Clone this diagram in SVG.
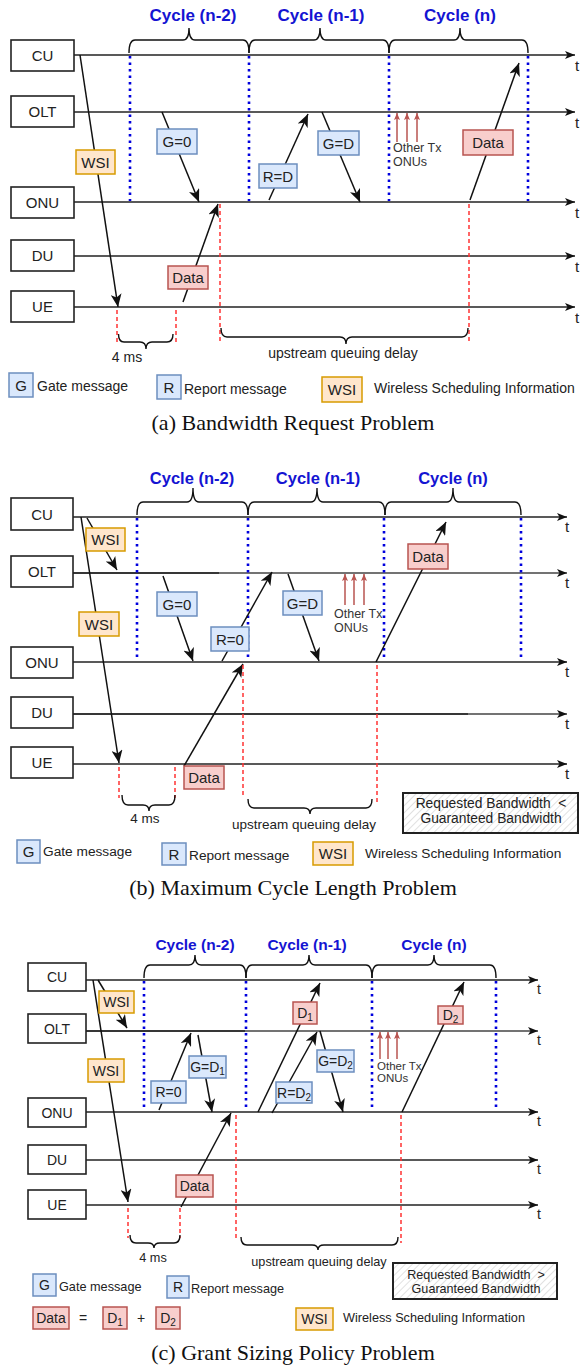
<svg xmlns="http://www.w3.org/2000/svg" width="581" height="1365" viewBox="0 0 581 1365">
<style>
.lane{fill:#fff;stroke:#222;stroke-width:1.6}
.ln{stroke:#222;stroke-width:1.6;fill:none;marker-end:url(#ahs)}
.lnl{stroke:#444;stroke-width:1.3;fill:none;marker-end:url(#ahs)}
.msg{stroke:#111;stroke-width:1.5;fill:none;marker-end:url(#ah)}
.cyc{stroke:#0000dd;stroke-width:2.6;stroke-dasharray:2.6 3.9;fill:none}
.red{stroke:#ff3333;stroke-width:1.5;stroke-dasharray:4 3;fill:none}
.brace{fill:none;stroke:#111;stroke-width:1.4}
.gb{fill:#dae8fc;stroke:#6c8ebf;stroke-width:1.5}
.rb{fill:#f8cecc;stroke:#b85450;stroke-width:1.5}
.ob{fill:#ffe6cc;stroke:#d79b00;stroke-width:1.5}
.otx{stroke:#b85450;stroke-width:1.5;fill:none;marker-end:url(#ahr)}
.tx{font-family:"Liberation Sans",Arial,sans-serif;fill:#222}
.c{text-anchor:middle}
.cy{font-family:"Liberation Sans",Arial,sans-serif;font-weight:bold;fill:#1414d2;text-anchor:middle}
.cap{font-family:"Liberation Serif","Times New Roman",serif;fill:#111;text-anchor:middle;font-size:22px}
.hb{fill:url(#hatch);stroke:#222;stroke-width:2}
</style>
<defs>
<marker id="ah" markerUnits="userSpaceOnUse" viewBox="0 0 13 11" markerWidth="13" markerHeight="11" refX="13" refY="5.5" orient="auto"><path d="M0,0 L13,5.5 L0,11 L3.5,5.5 z" fill="#111"/></marker>
<marker id="ahs" markerUnits="userSpaceOnUse" viewBox="0 0 10 8" markerWidth="10" markerHeight="8" refX="10" refY="4" orient="auto"><path d="M0,0 L10,4 L0,8 L2.5,4 z" fill="#111"/></marker>
<marker id="ahr" markerUnits="userSpaceOnUse" viewBox="0 0 7 6" markerWidth="7" markerHeight="6" refX="7" refY="3" orient="auto"><path d="M0,0 L7,3 L0,6 L1.5,3 z" fill="#b85450"/></marker>
<pattern id="hatch" patternUnits="userSpaceOnUse" width="5" height="5" patternTransform="rotate(45)"><rect width="5" height="5" fill="#fff"/><line x1="0" y1="0" x2="0" y2="5" stroke="#d4d4d4" stroke-width="1.4"/></pattern>
</defs>

<!-- ================= PANEL A ================= -->
<g id="connectors-a">
<path class="ln" d="M74,55 H575"/>
<path class="ln" d="M74,112 H575"/>
<path class="ln" d="M74,202 H575"/>
<path class="ln" d="M74,256 H575"/>
<path class="ln" d="M74,307 H575"/>
<path class="cyc" d="M130,56 V201 M249,56 V201 M389,56 V201 M528,56 V201"/>
<path class="brace" d="M129,53 Q129,40 135,40 L183,40 Q189,40 189,28 Q189,40 195,40 L243,40 Q249,40 249,53"/>
<path class="brace" d="M249,53 Q249,40 255,40 L314,40 Q320,40 320,28 Q320,40 326,40 L383,40 Q389,40 389,53"/>
<path class="brace" d="M389,53 Q389,40 395,40 L454,40 Q460,40 460,28 Q460,40 466,40 L522,40 Q528,40 528,53"/>
<path class="msg" d="M80,55 L118,307"/>
<path class="msg" d="M162,112 L199,202"/>
<path class="msg" d="M269,200 L308,114"/>
<path class="msg" d="M322,112 L360,202"/>
<path class="msg" d="M470,200 L519,63"/>
<path class="msg" d="M183,302 L218,204"/>
<path class="otx" d="M397,142 V113"/>
<path class="otx" d="M407,142 V113"/>
<path class="otx" d="M417,142 V113"/>
<path class="red" d="M117,310 V343 M176,310 V343 M220,204 V343 M469,204 V343"/>
<path class="brace" d="M118.5,334 Q118.5,342 124,342 L140,342 Q146,342 146,349 Q146,342 152,342 L167,342 Q173,342 173,334"/>
<path class="brace" d="M221,328 Q221,337 227,337 L340,337 Q346,337 346,344 Q346,337 352,337 L462,337 Q468,337 468,328"/>
</g>
<g id="lanes-a" class="tx" font-size="15">
<g id="a-cu"><rect class="lane" x="11" y="40" width="63" height="31"/><text class="c" x="42.5" y="61">CU</text></g>
<g id="a-olt"><rect class="lane" x="11" y="96" width="63" height="31"/><text class="c" x="42.5" y="117">OLT</text></g>
<g id="a-onu"><rect class="lane" x="11" y="187" width="63" height="31"/><text class="c" x="42.5" y="208">ONU</text></g>
<g id="a-du"><rect class="lane" x="11" y="240" width="63" height="31"/><text class="c" x="42.5" y="261">DU</text></g>
<g id="a-ue"><rect class="lane" x="11" y="291" width="63" height="31"/><text class="c" x="42.5" y="312">UE</text></g>
</g>
<g id="labels-a" class="tx" font-size="15">
<g id="a-t"><text x="575" y="71">t</text><text x="575" y="128">t</text><text x="575" y="218">t</text><text x="575" y="272">t</text><text x="575" y="323">t</text></g>
<g id="a-cycles" font-size="17"><text class="cy" x="193" y="21">Cycle (n-2)</text><text class="cy" x="321" y="21">Cycle (n-1)</text><text class="cy" x="460" y="21">Cycle (n)</text></g>
<g id="a-wsi"><rect class="ob" x="76" y="150" width="39" height="24"/><text class="c" x="95.5" y="167.5">WSI</text></g>
<g id="a-g0"><rect class="gb" x="157" y="129" width="40" height="25"/><text class="c" x="177" y="147">G=0</text></g>
<g id="a-rd"><rect class="gb" x="259" y="164" width="38" height="24"/><text class="c" x="278" y="181.5">R=D</text></g>
<g id="a-gd"><rect class="gb" x="318" y="131" width="41" height="24"/><text class="c" x="338.5" y="148.5">G=D</text></g>
<g id="a-data1"><rect class="rb" x="463" y="130" width="50" height="25"/><text class="c" x="488" y="148">Data</text></g>
<g id="a-data2"><rect class="rb" x="168" y="266" width="40" height="23"/><text class="c" x="188" y="283">Data</text></g>
<g id="a-other" font-size="12.5" fill="#333"><text x="393" y="152">Other Tx</text><text x="393" y="166">ONUs</text></g>
<g id="a-4ms" font-size="14"><text class="c" x="127" y="362">4 ms</text></g>
<g id="a-uqd" font-size="14"><text class="c" x="343" y="358">upstream queuing delay</text></g>
<g id="a-leg-g"><rect class="gb" x="9" y="373" width="24" height="24"/><text class="c" x="21" y="390.5">G</text><text x="37" y="391" font-size="14">Gate message</text></g>
<g id="a-leg-r"><rect class="gb" x="157" y="375" width="24" height="24"/><text class="c" x="169" y="392.5">R</text><text x="184" y="394" font-size="14">Report message</text></g>
<g id="a-leg-w"><rect class="ob" x="322" y="377" width="40" height="25"/><text class="c" x="342" y="395">WSI</text><text x="374" y="393" font-size="14">Wireless Scheduling Information</text></g>
</g>
<text id="cap-a" class="cap" x="293" y="430">(a) Bandwidth Request Problem</text>

<!-- ================= PANEL B ================= -->
<g id="connectors-b">
<path class="ln" d="M73,517 H567"/>
<path class="lnl" d="M73,573 H567"/>
<path d="M73,573 H219" stroke="#222" stroke-width="1.6"/>
<path class="ln" d="M73,662 H567"/>
<path class="lnl" d="M73,714 H567"/>
<path d="M73,714 H468" stroke="#222" stroke-width="1.6"/>
<path class="ln" d="M73,764 H567"/>
<path class="cyc" d="M137,518 V661 M248,518 V661 M384,518 V661 M521,518 V661"/>
<path class="brace" d="M137,515 Q137,502 143,502 L187,502 Q193,502 193,488 Q193,502 199,502 L242,502 Q248,502 248,515"/>
<path class="brace" d="M248,515 Q248,502 254,502 L311,502 Q317,502 317,488 Q317,502 323,502 L379,502 Q385,502 385,515"/>
<path class="brace" d="M385,515 Q385,502 391,502 L447,502 Q453,502 453,488 Q453,502 459,502 L515,502 Q521,502 521,515"/>
<path class="msg" d="M87,518 L117,570"/>
<path class="msg" d="M81,517 L119,763"/>
<path class="msg" d="M163,576 L193,661"/>
<path class="msg" d="M222,661 L272,572"/>
<path class="msg" d="M288,574 L319,661"/>
<path class="msg" d="M376,662 L446,522"/>
<path class="msg" d="M184,766 L243,664"/>
<path class="otx" d="M345,605 V574"/>
<path class="otx" d="M354,605 V574"/>
<path class="otx" d="M364,605 V574"/>
<path class="red" d="M119,767 V798 M175,767 V798 M243,665 V797 M377,665 V802"/>
<path class="brace" d="M122,795 Q122,805 128,805 L143,805 Q149,805 149,811 Q149,805 155,805 L169,805 Q175,805 175,795"/>
<path class="brace" d="M248,799 Q248,808 254,808 L304,808 Q310,808 310,814 Q310,808 316,808 L366,808 Q372,808 372,799"/>
</g>
<g id="lanes-b" class="tx" font-size="15">
<g id="b-cu"><rect class="lane" x="11" y="498" width="62" height="32"/><text class="c" x="42" y="519.5">CU</text></g>
<g id="b-olt"><rect class="lane" x="11" y="556" width="62" height="31"/><text class="c" x="42" y="577">OLT</text></g>
<g id="b-onu"><rect class="lane" x="11" y="647" width="62" height="31"/><text class="c" x="42" y="668">ONU</text></g>
<g id="b-du"><rect class="lane" x="11" y="697" width="62" height="31"/><text class="c" x="42" y="718">DU</text></g>
<g id="b-ue"><rect class="lane" x="11" y="747" width="62" height="31"/><text class="c" x="42" y="768">UE</text></g>
</g>
<g id="labels-b" class="tx" font-size="15">
<g id="b-t"><text x="565" y="532">t</text><text x="565" y="588">t</text><text x="565" y="677">t</text><text x="565" y="729">t</text><text x="565" y="779">t</text></g>
<g id="b-cycles" font-size="16.5"><text class="cy" x="192" y="484">Cycle (n-2)</text><text class="cy" x="318" y="484">Cycle (n-1)</text><text class="cy" x="453" y="484">Cycle (n)</text></g>
<g id="b-wsi1"><rect class="ob" x="86" y="528" width="39" height="23"/><text class="c" x="105.5" y="545">WSI</text></g>
<g id="b-wsi2"><rect class="ob" x="79" y="612" width="40" height="24"/><text class="c" x="99" y="629.5">WSI</text></g>
<g id="b-g0"><rect class="gb" x="157" y="592" width="40" height="24"/><text class="c" x="177" y="609.5">G=0</text></g>
<g id="b-r0"><rect class="gb" x="211" y="627" width="38" height="24"/><text class="c" x="230" y="644.5">R=0</text></g>
<g id="b-gd"><rect class="gb" x="283" y="591" width="39" height="24"/><text class="c" x="302.5" y="608.5">G=D</text></g>
<g id="b-data1"><rect class="rb" x="408" y="544" width="40" height="25"/><text class="c" x="428" y="562">Data</text></g>
<g id="b-data2"><rect class="rb" x="184" y="766" width="40" height="23"/><text class="c" x="204" y="783">Data</text></g>
<g id="b-other" font-size="12.5" fill="#333"><text x="334" y="618">Other Tx</text><text x="334" y="632">ONUs</text></g>
<g id="b-4ms" font-size="13.5"><text class="c" x="145" y="823">4 ms</text></g>
<g id="b-uqd" font-size="13.5"><text class="c" x="304" y="829">upstream queuing delay</text></g>
<g id="b-req"><rect class="hb" x="403" y="793" width="175" height="40"/><text class="c" x="491" y="808" font-size="13.8">Requested Bandwidth&#160; &lt;</text><text class="c" x="491" y="823" font-size="13.8">Guaranteed Bandwidth</text></g>
<g id="b-leg-g"><rect class="gb" x="17" y="840" width="23" height="23"/><text class="c" x="28.5" y="857">G</text><text x="43" y="856" font-size="13.7">Gate message</text></g>
<g id="b-leg-r"><rect class="gb" x="162" y="843" width="24" height="22"/><text class="c" x="174" y="859.5">R</text><text x="189" y="860" font-size="13.7">Report message</text></g>
<g id="b-leg-w"><rect class="ob" x="313" y="842" width="40" height="23"/><text class="c" x="333" y="859">WSI</text><text x="365" y="858" font-size="13.7">Wireless Scheduling Information</text></g>
</g>
<text id="cap-b" class="cap" x="293" y="895">(b) Maximum Cycle Length Problem</text>

<!-- ================= PANEL C ================= -->
<g id="connectors-c">
<path class="ln" d="M86,980 H538"/>
<path class="lnl" d="M86,1031 H538"/>
<path d="M86,1031 H245" stroke="#222" stroke-width="1.6"/>
<path class="ln" d="M86,1112 H538"/>
<path class="ln" d="M86,1160 H538"/>
<path class="ln" d="M86,1205 H538"/>
<path class="cyc" d="M144,981 V1111 M246,981 V1111 M372,981 V1111 M496,981 V1111"/>
<path class="brace" d="M144,978 Q144,965 150,965 L189,965 Q195,965 195,955 Q195,965 201,965 L240,965 Q246,965 246,978"/>
<path class="brace" d="M246,978 Q246,965 252,965 L303,965 Q309,965 309,955 Q309,965 315,965 L366,965 Q372,965 372,978"/>
<path class="brace" d="M372,978 Q372,965 378,965 L428,965 Q434,965 434,955 Q434,965 440,965 L490,965 Q496,965 496,978"/>
<path class="msg" d="M98,980 L127,1028"/>
<path class="msg" d="M93,980 L128,1202"/>
<path class="msg" d="M159,1110 L191,1033"/>
<path class="msg" d="M198,1035 L212,1112"/>
<path class="msg" d="M181,1207 L231,1113"/>
<path class="msg" d="M258,1112 L320,983"/>
<path class="msg" d="M272,1113 L317,1032"/>
<path class="msg" d="M320,1031 L343,1112"/>
<path class="msg" d="M402,1112 L464,982"/>
<path class="otx" d="M380,1059 V1032"/>
<path class="otx" d="M388,1059 V1032"/>
<path class="otx" d="M397,1059 V1032"/>
<path class="red" d="M128,1208 V1238 M180,1208 V1238 M236,1115 V1238 M401,1115 V1243"/>
<path class="brace" d="M130,1235 Q130,1243 136,1243 L148,1243 Q154,1243 154,1248 Q154,1243 160,1243 L174,1243 Q180,1243 180,1235"/>
<path class="brace" d="M241,1237 Q241,1245 247,1245 L312,1245 Q318,1245 318,1250 Q318,1245 324,1245 L392,1245 Q398,1245 398,1237"/>
</g>
<g id="lanes-c" class="tx" font-size="14">
<g id="c-cu"><rect class="lane" x="28" y="963" width="58" height="28"/><text class="c" x="57" y="982">CU</text></g>
<g id="c-olt"><rect class="lane" x="28" y="1014" width="58" height="29"/><text class="c" x="57" y="1033.5">OLT</text></g>
<g id="c-onu"><rect class="lane" x="28" y="1098" width="58" height="29"/><text class="c" x="57" y="1117.5">ONU</text></g>
<g id="c-du"><rect class="lane" x="28" y="1145" width="58" height="29"/><text class="c" x="57" y="1164.5">DU</text></g>
<g id="c-ue"><rect class="lane" x="28" y="1190" width="58" height="29"/><text class="c" x="57" y="1209.5">UE</text></g>
</g>
<g id="labels-c" class="tx" font-size="14">
<g id="c-t"><text x="537" y="994">t</text><text x="537" y="1045">t</text><text x="537" y="1126">t</text><text x="537" y="1174">t</text><text x="537" y="1219">t</text></g>
<g id="c-cycles" font-size="15.5"><text class="cy" x="195" y="950">Cycle (n-2)</text><text class="cy" x="307" y="950">Cycle (n-1)</text><text class="cy" x="434" y="950">Cycle (n)</text></g>
<g id="c-wsi1"><rect class="ob" x="99" y="991" width="35" height="22"/><text class="c" x="116.5" y="1007">WSI</text></g>
<g id="c-wsi2"><rect class="ob" x="88" y="1059" width="36" height="23"/><text class="c" x="106" y="1075.5">WSI</text></g>
<g id="c-r0"><rect class="gb" x="151" y="1081" width="35" height="22"/><text class="c" x="168.5" y="1097">R=0</text></g>
<g id="c-gd1"><rect class="gb" x="189" y="1056" width="37" height="22"/><text class="c" x="207.5" y="1071.5">G=D<tspan font-size="10" dy="3">1</tspan></text></g>
<g id="c-d1"><rect class="rb" x="293" y="1002" width="24" height="22"/><text class="c" x="305" y="1018">D<tspan font-size="10" dy="3">1</tspan></text></g>
<g id="c-rd2"><rect class="gb" x="276" y="1082" width="36" height="21"/><text class="c" x="294" y="1097.5">R=D<tspan font-size="10" dy="3">2</tspan></text></g>
<g id="c-gd2"><rect class="gb" x="317" y="1050" width="37" height="22"/><text class="c" x="335.5" y="1065.5">G=D<tspan font-size="10" dy="3">2</tspan></text></g>
<g id="c-d2"><rect class="rb" x="438" y="1006" width="25" height="18"/><text class="c" x="450.5" y="1019.5">D<tspan font-size="10" dy="3">2</tspan></text></g>
<g id="c-data"><rect class="rb" x="176" y="1175" width="37" height="22"/><text class="c" x="194.5" y="1191">Data</text></g>
<g id="c-other" font-size="11.5" fill="#333"><text x="377" y="1070">Other Tx</text><text x="377" y="1082">ONUs</text></g>
<g id="c-4ms" font-size="12.7"><text class="c" x="153" y="1262">4 ms</text></g>
<g id="c-uqd" font-size="12.7"><text class="c" x="319" y="1266">upstream queuing delay</text></g>
<g id="c-req"><rect class="hb" x="393" y="1263" width="164" height="36"/><text class="c" x="476" y="1278.5" font-size="12.6">Requested Bandwidth&#160; &gt;</text><text class="c" x="476" y="1292.5" font-size="12.6">Guaranteed Bandwidth</text></g>
<g id="c-leg-g"><rect class="gb" x="33" y="1274" width="23" height="22"/><text class="c" x="44.5" y="1290">G</text><text x="59" y="1290.5" font-size="12.7">Gate message</text></g>
<g id="c-leg-r"><rect class="gb" x="167" y="1276" width="22" height="22"/><text class="c" x="178" y="1292">R</text><text x="191" y="1292.5" font-size="12.7">Report message</text></g>
<g id="c-leg-data"><rect class="rb" x="33" y="1307" width="36" height="22"/><text class="c" x="51" y="1323">Data</text><text class="c" x="83" y="1323">=</text><rect class="rb" x="103" y="1307" width="24" height="22"/><text class="c" x="115" y="1323">D<tspan font-size="10" dy="3">1</tspan></text><text class="c" x="141" y="1323">+</text><rect class="rb" x="156" y="1307" width="24" height="22"/><text class="c" x="168" y="1323">D<tspan font-size="10" dy="3">2</tspan></text></g>
<g id="c-leg-w"><rect class="ob" x="296" y="1308" width="37" height="22"/><text class="c" x="314.5" y="1324">WSI</text><text x="343" y="1321.5" font-size="12.7">Wireless Scheduling Information</text></g>
</g>
<text id="cap-c" class="cap" x="293" y="1360">(c) Grant Sizing Policy Problem</text>
</svg>
